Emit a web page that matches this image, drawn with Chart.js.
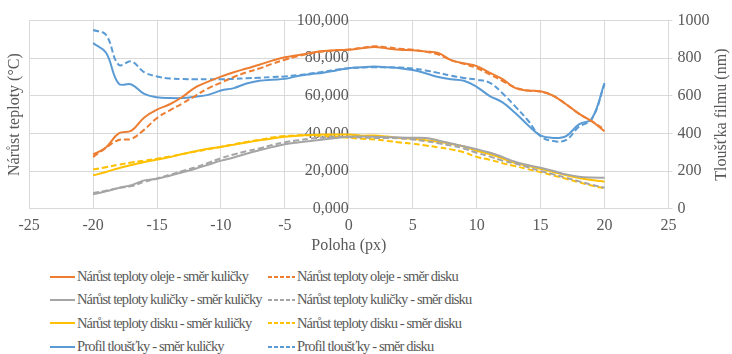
<!DOCTYPE html>
<html lang="cs">
<head>
<meta charset="utf-8">
<script src="https://cdn.jsdelivr.net/npm/chart.js@4.4.1/dist/chart.umd.min.js"></script>
<style>
  html, body { margin: 0; padding: 0; background: #fff; }
  #wrap { position: relative; width: 732px; height: 354px; overflow: hidden; }
  #chartBox { position: absolute; left: 0; top: 0; width: 732px; height: 258px; }
  #legend {
    position: absolute; left: 50px; top: 265px;
    display: grid; grid-template-columns: 218px 300px; grid-auto-rows: 23.3px;
    font-family: "Liberation Serif", "Times New Roman", "DejaVu Serif", serif;
    font-size: 14.5px; letter-spacing: -0.875px; color: #595959;
  }
  .item { display: flex; align-items: center; white-space: nowrap; }
  .item svg { margin-right: 2px; flex: none; }
</style>
</head>
<body>
<div id="wrap">
  <div id="chartBox"><canvas id="chart"></canvas></div>
  <div id="legend"></div>
</div>
<script>
/* =======================
   Data
======================= */
const positions = [-20, -19, -18, -17, -16, -15, -14, -13, -12, -11, -10, -9, -8, -7, -6, -5, -4, -3, -2, -1,
  0, 1, 2, 3, 4, 5, 6, 7, 8, 9, 10, 11, 12, 13, 14, 15, 16, 17, 18, 19, 20];

// temperature rise (°C), left axis
const oilBall = [28.8, 32.5, 40.0, 41.5, 48.5, 52.7, 55.5, 59.5, 64.5, 67.5, 70.2, 72.5, 74.5, 76.5, 78.7, 80.5, 81.6, 82.8, 83.8, 84.3,
  84.5, 85.3, 85.9, 85.2, 84.5, 84.2, 83.6, 82.8, 79.0, 77.3, 75.8, 72.3, 69.0, 64.2, 62.8, 62.4, 60.0, 55.5, 50.5, 46.5, 41.2];
const oilDisc = [27.5, 32.3, 36.5, 37.1, 42.0, 48.2, 52.3, 56.0, 60.0, 64.0, 67.0, 70.0, 72.5, 74.5, 77.0, 79.2, 81.0, 82.5, 83.6, 84.2,
  84.6, 85.5, 86.3, 85.8, 85.0, 84.5, 83.5, 82.0, 79.0, 77.0, 74.8, 71.5, 68.0, 64.5, 62.8, 62.2, 60.0, 55.5, 50.5, 46.5, 42.0];
const ballBall = [7.6, 9.2, 11.0, 12.5, 15.0, 15.9, 17.5, 19.3, 21.2, 23.3, 25.5, 27.2, 29.2, 31.0, 32.7, 34.2, 35.2, 36.0, 36.8, 37.5,
  38.2, 38.3, 38.2, 38.0, 37.8, 37.7, 37.6, 36.2, 34.6, 33.2, 31.6, 29.8, 27.5, 24.9, 23.2, 21.7, 20.0, 18.2, 17.0, 16.5, 16.4];
const ballDisc = [8.3, 9.5, 11.0, 12.0, 14.2, 16.0, 18.0, 20.0, 22.0, 24.3, 26.8, 28.8, 30.5, 32.0, 33.8, 35.3, 36.3, 37.2, 37.8, 38.2,
  38.0, 37.8, 37.6, 37.6, 37.3, 36.8, 35.9, 34.8, 33.5, 32.0, 29.7, 27.8, 25.5, 24.0, 22.0, 20.0, 18.2, 16.4, 14.5, 12.7, 11.1];
const discBall = [17.7, 19.5, 21.5, 23.2, 24.8, 26.1, 27.4, 29.0, 30.5, 31.8, 32.8, 34.0, 35.2, 36.3, 37.3, 38.2, 38.8, 39.2, 39.4, 39.4,
  39.4, 38.8, 38.9, 38.3, 37.6, 37.2, 36.4, 35.6, 34.4, 33.0, 30.8, 29.0, 26.8, 24.3, 22.8, 21.2, 19.5, 17.7, 16.3, 15.2, 14.3];
const discDisc = [20.8, 22.0, 23.4, 24.5, 25.5, 26.5, 27.7, 29.0, 30.3, 31.6, 32.9, 34.2, 35.5, 36.6, 37.8, 38.6, 39.0, 39.0, 38.7, 38.2,
  37.6, 37.2, 36.8, 36.0, 35.2, 34.5, 33.6, 32.6, 31.5, 30.0, 27.5, 26.0, 24.2, 22.6, 21.0, 19.4, 17.6, 15.9, 14.0, 12.3, 10.8];

// film thickness (nm), right axis
const filmBall = [880, 830, 665, 660, 610, 592, 588, 588, 595, 605, 628, 641, 665, 680, 686, 690, 705, 715, 723, 735,
  747, 752, 756, 752, 747, 737, 720, 700, 688, 680, 648, 600, 566, 510, 445, 389, 376, 386, 448, 478, 668];
const filmDisc = [950, 925, 765, 783, 725, 703, 692, 689, 688, 688, 688, 690, 693, 696, 700, 703, 710, 718, 728, 738,
  747, 750, 752, 752, 750, 745, 735, 722, 707, 695, 686, 670, 615, 545, 470, 385, 359, 365, 435, 475, 660];

const seriesLabels = [
  "Nárůst teploty oleje - směr kuličky", "Nárůst teploty oleje - směr disku",
  "Nárůst teploty kuličky - směr kuličky", "Nárůst teploty kuličky - směr disku",
  "Nárůst teploty disku - směr kuličky", "Nárůst teploty disku - směr disku",
  "Profil tloušťky - směr kuličky", "Profil tloušťky - směr disku"
];
const seriesValues = [oilBall, oilDisc, ballBall, ballDisc, discBall, discDisc, filmBall, filmDisc];

const xTitle = "Poloha (px)";
const tempTitle = "Nárůst teploty (°C)";
const filmTitle = "Tloušťka filmu (nm)";

/* =======================
   Styles
======================= */
const ORANGE = "#ED7D31", GRAY = "#A5A5A5", GOLD = "#FFC000", BLUE = "#5B9BD5";
const colors = [ORANGE, ORANGE, GRAY, GRAY, GOLD, GOLD, BLUE, BLUE];
const TEXT = "#595959";
const GRID = "#d9d9d9";
const FAMILY = "'Liberation Serif', 'Times New Roman', 'DejaVu Serif', serif";
const FONT = { family: FAMILY, size: 16 };
const DASH = [6, 3];

const datasets = seriesValues.map((vals, i) => ({
  label: seriesLabels[i],
  data: positions.map((x, j) => ({ x, y: vals[j] })),
  borderColor: colors[i],
  backgroundColor: colors[i],
  borderWidth: 2,
  borderDash: i % 2 ? DASH : [],
  pointRadius: 0,
  tension: 0.4,
  fill: false,
  yAxisID: i >= 6 ? "y1" : "y"
}));

// right axis title reads bottom-to-top, so draw it ourselves
const filmTitlePlugin = {
  id: "filmTitle",
  afterDraw(chart) {
    const s = chart.scales.y1;
    const ctx = chart.ctx;
    ctx.save();
    ctx.translate(chart.width - 10, (s.top + s.bottom) / 2);
    ctx.rotate(-Math.PI / 2);
    ctx.font = "16px " + FAMILY;
    ctx.fillStyle = TEXT;
    ctx.textAlign = "center";
    ctx.textBaseline = "middle";
    ctx.fillText(filmTitle, 0, 0);
    ctx.restore();
  }
};

const chart = new Chart(document.getElementById("chart"), {
  type: "line",
  data: { datasets },
  plugins: [filmTitlePlugin],
  options: {
    responsive: true,
    maintainAspectRatio: false,
    animation: false,
    layout: { padding: { left: 0, right: 0, top: 5, bottom: 7 } },
    plugins: { legend: { display: false }, tooltip: { enabled: false } },
    scales: {
      x: {
        type: "linear", min: -25, max: 25,
        ticks: { stepSize: 5, color: TEXT, font: FONT, padding: 8 },
        grid: { color: GRID, drawTicks: false },
        border: { display: false },
        title: { display: true, text: xTitle, color: TEXT, font: FONT, padding: { top: -8, bottom: -4 } }
      },
      yT: {
        type: "linear", position: "left",
        ticks: { display: false },
        grid: { display: false, drawTicks: false },
        border: { display: false },
        title: { display: true, text: tempTitle, color: TEXT, font: FONT, padding: { top: 5, bottom: 5 } }
      },
      y: {
        type: "linear", position: { x: 0 }, min: 0, max: 100,
        ticks: { stepSize: 10, color: TEXT, font: FONT, padding: 11,
          callback: v => v.toFixed(3).replace(".", ",") },
        grid: { color: GRID, drawTicks: false },
        border: { display: false }
      },
      y1: {
        type: "linear", position: "right", min: 0, max: 1000,
        ticks: { stepSize: 100, color: TEXT, font: FONT, padding: 5, callback: v => String(v) },
        grid: { color: GRID, drawOnChartArea: false, tickLength: 4 },
        border: { color: GRID },
        title: { display: true, text: filmTitle, color: "rgba(0,0,0,0)", font: { ...FONT, lineHeight: 1.1 }, padding: 0 }
      }
    }
  }
});

/* =======================
   Legend (two columns)
======================= */
const legendBox = document.getElementById("legend");
chart.data.datasets.forEach(ds => {
  const item = document.createElement("div");
  item.className = "item";
  const dashed = ds.borderDash.length > 0;
  item.innerHTML =
    `<svg width="${dashed ? 27 : 25}" height="4"><line x1="0" y1="2" x2="${dashed ? 27 : 25}" y2="2" stroke="${ds.borderColor}" stroke-width="2"${dashed ? ' stroke-dasharray="4 2"' : ""}/></svg>`;
  const span = document.createElement("span");
  span.textContent = ds.label;
  item.appendChild(span);
  legendBox.appendChild(item);
});
</script>
</body>
</html>
